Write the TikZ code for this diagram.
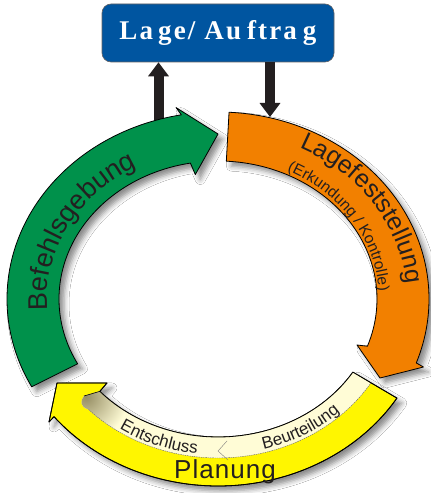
\documentclass[tikz,border=0pt]{standalone}
\usepackage{fontspec}
\setmainfont{Liberation Sans}
\newfontfamily\boxfont{Liberation Serif}
\usetikzlibrary{arrows.meta,decorations.text,shadows.blur}
\definecolor{rgreen}{RGB}{0,145,75}
\definecolor{rorange}{RGB}{242,128,0}
\definecolor{ryellow}{RGB}{255,246,0}
\definecolor{rcream}{RGB}{255,252,214}
\definecolor{rblue}{RGB}{0,85,160}
\definecolor{rdark}{RGB}{35,31,32}
\definecolor{rolive}{RGB}{150,142,100}
\begin{document}
\begin{tikzpicture}[x=1pt,y=1pt,
  band/.style={draw=black, line width=0.8pt, line join=round,
    blur shadow={shadow xshift=5pt, shadow yshift=-5pt, shadow blur radius=5pt, shadow opacity=45}},
  outline/.style={draw=black, line width=0.8pt, line join=round},
  arctext/.style 2 args={decorate, decoration={text along path, text align=center,
    text={|\fontsize{#1}{#1}\selectfont\color{rdark}|#2}}},
  blockarrow/.style={draw=rdark, line width=10pt, -{Triangle[width=20pt,length=14pt]}},
  boxstyle/.style={draw=rdark!70, line width=0.6pt, fill=rblue, rounded corners=9pt,
    minimum width=232pt, minimum height=58pt, inner sep=0pt, text=white}
]
\useasboundingbox (0,0) rectangle (431,493);
\fill[white] (0,0) rectangle (431,493);

% top box
\node[boxstyle] (lage) at (218,460)
  {\boxfont\bfseries\fontsize{27}{27}\selectfont\addfontfeature{LetterSpace=8}La\kern5pt ge/ Au\kern6pt ftra\kern6pt g};

% arrow anchor points on the ring
\coordinate (gup) at (158.5,365);
\coordinate (odown) at (270,376);

% connectors (drawn first so the ring covers their ends)
\draw[blockarrow] (gup) -- (gup |- lage.south);
\draw[blockarrow] (lage.south -| odown) -- (odown);

% green: Befehlsgebung
\path[band, fill=rgreen]
  ({218+211*cos(208)},{194+187*sin(208)})
  arc[start angle=208, end angle=100, x radius=211, y radius=187]
  -- ({218+220*cos(101)},{194+195*sin(101)})
  -- (218,359)
  -- ({218+145*cos(99)},{194+126*sin(99)})
  -- ({218+159*cos(100)},{194+138*sin(100)})
  arc[start angle=100, end angle=208, x radius=159, y radius=138]
  -- cycle;

% orange: Lagefeststellung
\path[band, fill=rorange]
  ({218+211*cos(87)},{194+187*sin(87)})
  arc[start angle=87, end angle=-20, x radius=211, y radius=187]
  -- (423.5,126) -- (380,115) -- (357,148)
  -- ({218+159*cos(-20)},{194+138*sin(-20)})
  arc[start angle=-20, end angle=87, x radius=159, y radius=138]
  -- cycle;

% yellow: Planung
\path[band, fill=ryellow]
  ({218+211*cos(-32)},{194+187*sin(-32)})
  arc[start angle=-32, end angle=-141, x radius=211, y radius=187]
  -- (49,71) -- (57,110) -- (107,110)
  -- ({218+159*cos(222)},{194+138*sin(222)})
  arc[start angle=222, end angle=328, x radius=159, y radius=138]
  -- cycle;

% cream inner band
\path[fill=rcream]
  ({218+159*cos(222)},{194+138*sin(222)}) -- (84,97)
  .. controls (80,92) and (80,86) .. ({218+180*cos(224)},{194+159*sin(224)})
  arc[start angle=224, end angle=328, x radius=180, y radius=159]
  -- ({218+159*cos(328)},{194+138*sin(328)})
  arc[start angle=328, end angle=222, x radius=159, y radius=138]
  -- cycle;
\begin{scope}
  \clip
  ({218+159*cos(222)},{194+138*sin(222)}) -- (84,97)
  .. controls (80,92) and (80,86) .. ({218+180*cos(224)},{194+159*sin(224)})
  arc[start angle=224, end angle=328, x radius=180, y radius=159]
  -- ({218+159*cos(328)},{194+138*sin(328)})
  arc[start angle=328, end angle=222, x radius=159, y radius=138]
  -- cycle;
  \shade[inner color=rolive, outer color=rcream] (86,96) circle (42);
\end{scope}
\draw[rdark!70, line width=0.4pt, dash pattern=on 1.5pt off 0.8pt]
  ({218+180*cos(224)},{194+159*sin(224)})
  arc[start angle=224, end angle=328, x radius=180, y radius=159];
% redraw yellow outline over the cream
\path[outline]
  ({218+211*cos(-32)},{194+187*sin(-32)})
  arc[start angle=-32, end angle=-141, x radius=211, y radius=187]
  -- (49,71) -- (57,110) -- (107,110)
  -- ({218+159*cos(222)},{194+138*sin(222)})
  arc[start angle=222, end angle=328, x radius=159, y radius=138]
  -- cycle;
\draw[black, line width=0.6pt] ({218+159*cos(222)},{194+138*sin(222)}) -- (84,97);
% chevron between Beurteilung and Entschluss
\draw[rdark!60, line width=0.4pt, line join=round] (227,52) -- (218,42) -- (228,33);

% texts along the ring
\path[arctext={27}{Befehlsgebung}]
  ({218+171*cos(200)},{194+150*sin(200)})
  arc[start angle=200, end angle=104, x radius=171, y radius=150];
\path[arctext={25}{Lagefeststellung}]
  ({218+189*cos(80)},{194+168*sin(80)})
  arc[start angle=80, end angle=-12, x radius=189, y radius=168];
\path[arctext={15.5}{(Erkundung / Kontrolle)}]
  ({218+161*cos(79)},{194+142*sin(79)})
  arc[start angle=79, end angle=-13, x radius=161, y radius=142];
\path[arctext={17}{Entschluss}]
  ({218+177*cos(213)},{194+156*sin(213)})
  arc[start angle=213, end angle=285, x radius=177, y radius=156];
\path[arctext={17}{Beurteilung}]
  ({218+177*cos(266)},{194+156*sin(266)})
  arc[start angle=266, end angle=334, x radius=177, y radius=156];

\node[anchor=base, text=rdark, inner sep=0pt,
  font=\fontsize{26}{26}\selectfont] (planung) at (225,15) {\addfontfeature{LetterSpace=4}Planung};
\end{tikzpicture}
\end{document}
